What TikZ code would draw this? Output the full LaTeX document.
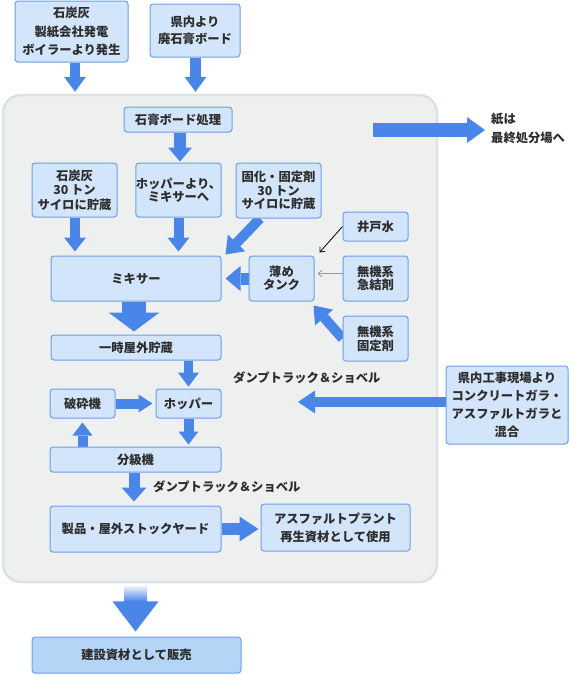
\documentclass[tikz,border=0pt]{standalone}
\usepackage{fontspec}
\setmainfont{Noto Sans CJK JP}
\usetikzlibrary{arrows.meta}
\definecolor{bgfill}{RGB}{238,240,240}
\definecolor{bgline}{RGB}{220,226,226}
\definecolor{boxfill}{RGB}{211,229,250}
\definecolor{boxline}{RGB}{110,158,234}
\definecolor{salefill}{RGB}{181,213,247}
\definecolor{arrowblue}{RGB}{74,134,232}
\definecolor{txt}{RGB}{45,45,45}
\newcommand\jfs[1]{\fontsize{12.3}{#1}\selectfont\bfseries}
\pgfdeclarelayer{bglayer}
\pgfdeclarelayer{arlayer}
\pgfsetlayers{bglayer,arlayer,main}
\tikzset{
  box/.style={draw=boxline, fill=boxfill, rounded corners=3pt, line width=1pt,
    align=center, inner sep=0pt, text=txt, font=\jfs{14}},
  bgbox/.style={draw=bgline, fill=bgfill, rounded corners=18pt, line width=2.5pt},
  lbl/.style={inner sep=0pt, text=txt, font=\jfs{19}, align=left},
  blk/.style n args={3}{draw=arrowblue, line width=#1pt, line cap=butt,
    -{Triangle[width=#2pt, length=#3pt, line width=0pt]}},
  thinar/.style={line width=0.8pt, -{Straight Barb[length=4pt, width=7pt]}},
}
\begin{document}
\begin{tikzpicture}[x=1pt, y=-1pt]
\useasboundingbox (0,0) rectangle (571,675);
\begin{pgfonlayer}{bglayer}
\node[bgbox, minimum width=434pt, minimum height=487pt] (bg) at (220,338.5) {};
\end{pgfonlayer}
% boxes
\node[box, font=\jfs{18.5}, minimum width=113pt, minimum height=61pt] (src1) at (71.5,31.5) {石炭灰\\製紙会社発電\\ボイラーより発生};
\node[box, font=\jfs{17}, minimum width=90pt, minimum height=53pt] (src2) at (195,30.5) {県内より\\廃石膏ボード};
\node[box, minimum width=108pt, minimum height=25pt] (gypsum) at (178,119.5) {石膏ボード処理};
\node[box, font=\jfs{14.5}, minimum width=85pt, minimum height=54pt] (coal) at (74.5,190) {石炭灰\\30 トン\\サイロに貯蔵};
\node[box, font=\jfs{13}, minimum width=85pt, minimum height=54pt] (hopmix) at (178.5,190) {ホッパーより、\\ミキサーへ};
\node[box, font=\jfs{13.5}, minimum width=85pt, minimum height=55pt] (solid) at (278.5,190.5) {固化・固定剤\\30 トン\\サイロに貯蔵};
\node[box, minimum width=65pt, minimum height=29pt] (well) at (375.5,226.5) {井戸水};
\node[box, font=\jfs{13}, minimum width=65pt, minimum height=45pt] (dilute) at (281.5,278.5) {薄め\\タンク};
\node[box, font=\jfs{13}, minimum width=65pt, minimum height=45pt] (accel) at (375.5,278.5) {無機系\\急結剤};
\node[box, font=\jfs{14}, minimum width=65pt, minimum height=45pt] (fixer) at (375.5,338.5) {無機系\\固定剤};
\node[box, minimum width=170pt, minimum height=45pt] (mixer) at (136,278.5) {ミキサー};
\node[box, minimum width=170pt, minimum height=25pt] (temp) at (136,347.5) {一時屋外貯蔵};
\node[box, minimum width=65pt, minimum height=29pt] (crusher) at (82.5,403.5) {破砕機};
\node[box, minimum width=65pt, minimum height=29pt] (hopper) at (188.5,403.5) {ホッパー};
\node[box, minimum width=171pt, minimum height=25pt] (classifier) at (135.5,459.5) {分級機};
\node[box, minimum width=171pt, minimum height=46pt] (product) at (135.5,529) {製品・屋外ストックヤード};
\node[box, font=\jfs{18}, minimum width=149pt, minimum height=47pt] (asphalt) at (335.5,527.5) {アスファルトプラント\\再生資材として使用};
\node[box, font=\jfs{18}, minimum width=122pt, minimum height=78pt] (site) at (507,405) {県内工事現場より\\コンクリートガラ・\\アスファルトガラと\\混合};
\node[box, fill=salefill, minimum width=209pt, minimum height=36pt] (sale) at (136.5,655) {建設資材として販売};
% labels
\node[lbl, anchor=west] (dump1) at (233,378) {ダンプトラック＆ショベル};
\node[lbl, anchor=west] (dump2) at (153,487) {ダンプトラック＆ショベル};
\node[lbl, anchor=west] (paper) at (491,128.5) {紙は\\最終処分場へ};
\coordinate (pstart) at (373,130);
\coordinate (stip) at (298,402);
% arrows
\begin{pgfonlayer}{arlayer}
\draw[blk={10}{22}{15}, shorten >=2pt] ([xshift=3.5pt]src1.south) -- ([xshift=3.5pt]src1.south |- bg.north);
\draw[blk={11}{22}{15}, shorten >=2pt] ([xshift=0.5pt]src2.south) -- ([xshift=0.5pt]src2.south |- bg.north);
\draw[blk={12}{24}{14}, shorten >=1pt] ([xshift=2pt]gypsum.south) -- ([xshift=2pt]gypsum.south |- hopmix.north);
\draw[blk={10}{22}{14}, shorten >=4pt] ([xshift=0.5pt]coal.south) -- ([xshift=0.5pt]coal.south |- mixer.north);
\draw[blk={10}{22}{14}, shorten >=4pt] (hopmix.south) -- (hopmix.south |- mixer.north);
\draw[blk={10}{24}{16}] ([xshift=-18.5pt]solid.south) -- ([xshift=4pt,yshift=1pt]mixer.north east);
\draw[blk={12}{25}{15}, shorten >=4pt] (dilute.west) -- (dilute.west -| mixer.east);
\draw[blk={10}{24}{16}] (fixer.west) -- ([xshift=-1pt,yshift=-4pt]dilute.south east);
\draw[thinar, draw=black] (well.west) -- ([xshift=5pt,yshift=3pt]dilute.north east);
\draw[thinar, draw=black!40] ([yshift=5pt]accel.west) -- ([xshift=3pt,yshift=5pt]dilute.east);
\draw[blk={14}{26}{18}, shorten >=6pt] (pstart) -- (pstart -| paper.west);
\draw[blk={24}{51}{19}, shorten >=3pt] ([xshift=-2pt]mixer.south) -- ([xshift=-2pt]mixer.south |- temp.north);
\draw[blk={9}{21}{14}, shorten >=2pt] (hopper.north |- temp.south) -- (hopper.north);
\draw[blk={10}{18}{14}, shorten >=3pt] (crusher.east) -- (hopper.west);
\draw[blk={10}{23}{17}] ([yshift=3pt]site.west) -- (stip);
\draw[blk={10}{20}{13}, shorten >=2pt] (hopper.south) -- (hopper.south |- classifier.north);
\draw[blk={10}{20}{13}, shorten >=4pt] (crusher.south |- classifier.north) -- (crusher.south);
\draw[blk={11}{25}{14}, shorten >=4pt] ([xshift=-1.5pt]classifier.south) -- ([xshift=-1.5pt]classifier.south |- product.north);
\draw[blk={12}{25}{19}, shorten >=2pt] (product.east) -- (product.east -| asphalt.west);
\end{pgfonlayer}
% output arrow with fading shaft
\coordinate (gtop) at ([xshift=-1pt,yshift=-1.2pt]sale.north |- bg.south);
\shade[top color=white, bottom color=arrowblue] ([xshift=-11.5pt]gtop) rectangle ([xshift=11.5pt,yshift=-17pt]gtop);
\fill[arrowblue] ([xshift=-23pt,yshift=-17pt]gtop) -- ([xshift=23pt,yshift=-17pt]gtop) -- ([xshift=-1pt,yshift=5pt]sale.north) -- cycle;
\end{tikzpicture}
\end{document}
